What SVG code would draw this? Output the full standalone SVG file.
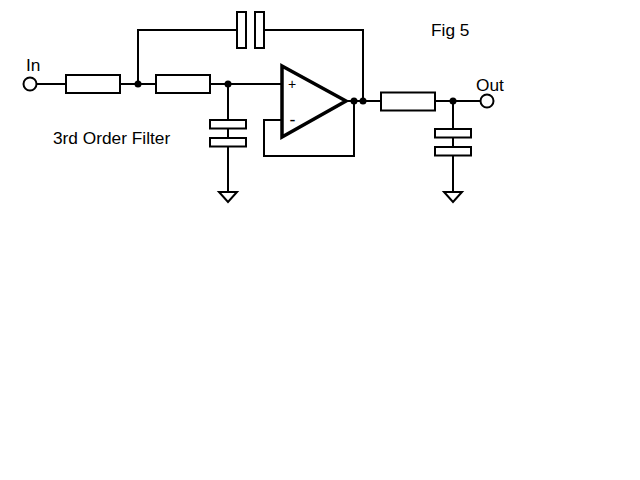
<svg xmlns="http://www.w3.org/2000/svg" width="640" height="480" viewBox="0 0 640 480">
<style>
.w{fill:none;stroke:#000;stroke-width:2}
.b{fill:#fff;stroke:#000;stroke-width:2}
.d{fill:#000}
text{font-family:"Liberation Sans",Arial,sans-serif;font-size:17.300px;fill:#000}
</style>
<rect width="640" height="480" fill="#fff"/>
<defs>
<path id="gnd" class="w" d="M-9 0H9L0 10Z"/>
</defs>
<g id="connectors">
<path class="w" d="M36 84H282"/>
<path class="w" d="M138 84V30H237M264 30H363V101"/>
<path class="w" d="M228 84V192"/>
<path class="w" d="M282 120H264V156H354V101"/>
<path class="w" d="M346 101H481"/>
<path class="w" d="M453 101V192"/>
</g>
<g id="in"><circle class="b" cx="30" cy="84" r="6.500"/><text x="26" y="71">In</text></g>
<g id="r1"><rect class="b" x="66" y="75" width="54" height="18"/></g>
<g id="j1"><circle class="d" cx="138" cy="84" r="3.500"/></g>
<g id="r2"><rect class="b" x="156" y="75" width="54" height="18"/></g>
<g id="j2"><circle class="d" cx="228" cy="84" r="3.500"/></g>
<g id="c1"><rect class="b" x="210" y="120" width="36" height="8.500"/><rect class="b" x="210" y="138" width="36" height="8.500"/></g>
<g id="gnd1"><use href="#gnd" x="228" y="192"/></g>
<g id="c2"><rect class="b" x="237" y="12" width="9" height="36"/><rect class="b" x="255" y="12" width="9" height="36"/></g>
<g id="opamp"><path d="M282 66L346 101L282 137Z" fill="#fff" stroke="#000" stroke-width="3.500"/><text x="288" y="89" style="font-size:14px">+</text><text x="289.500" y="125.500" style="font-size:18px">-</text></g>
<g id="j3"><circle class="d" cx="354" cy="101" r="3.500"/></g>
<g id="j4"><circle class="d" cx="363" cy="101" r="3.500"/></g>
<g id="r3"><rect class="b" x="381" y="92.500" width="54" height="18"/></g>
<g id="j5"><circle class="d" cx="453" cy="101" r="3.500"/></g>
<g id="out"><circle class="b" cx="487" cy="101" r="6.500"/><text x="476" y="91">Out</text></g>
<g id="c3"><rect class="b" x="435" y="129" width="36" height="8.500"/><rect class="b" x="435" y="147" width="36" height="8.500"/></g>
<g id="gnd2"><use href="#gnd" x="453" y="192"/></g>
<text x="53" y="144">3rd Order Filter</text>
<text x="431" y="36">Fig 5</text>
</svg>
